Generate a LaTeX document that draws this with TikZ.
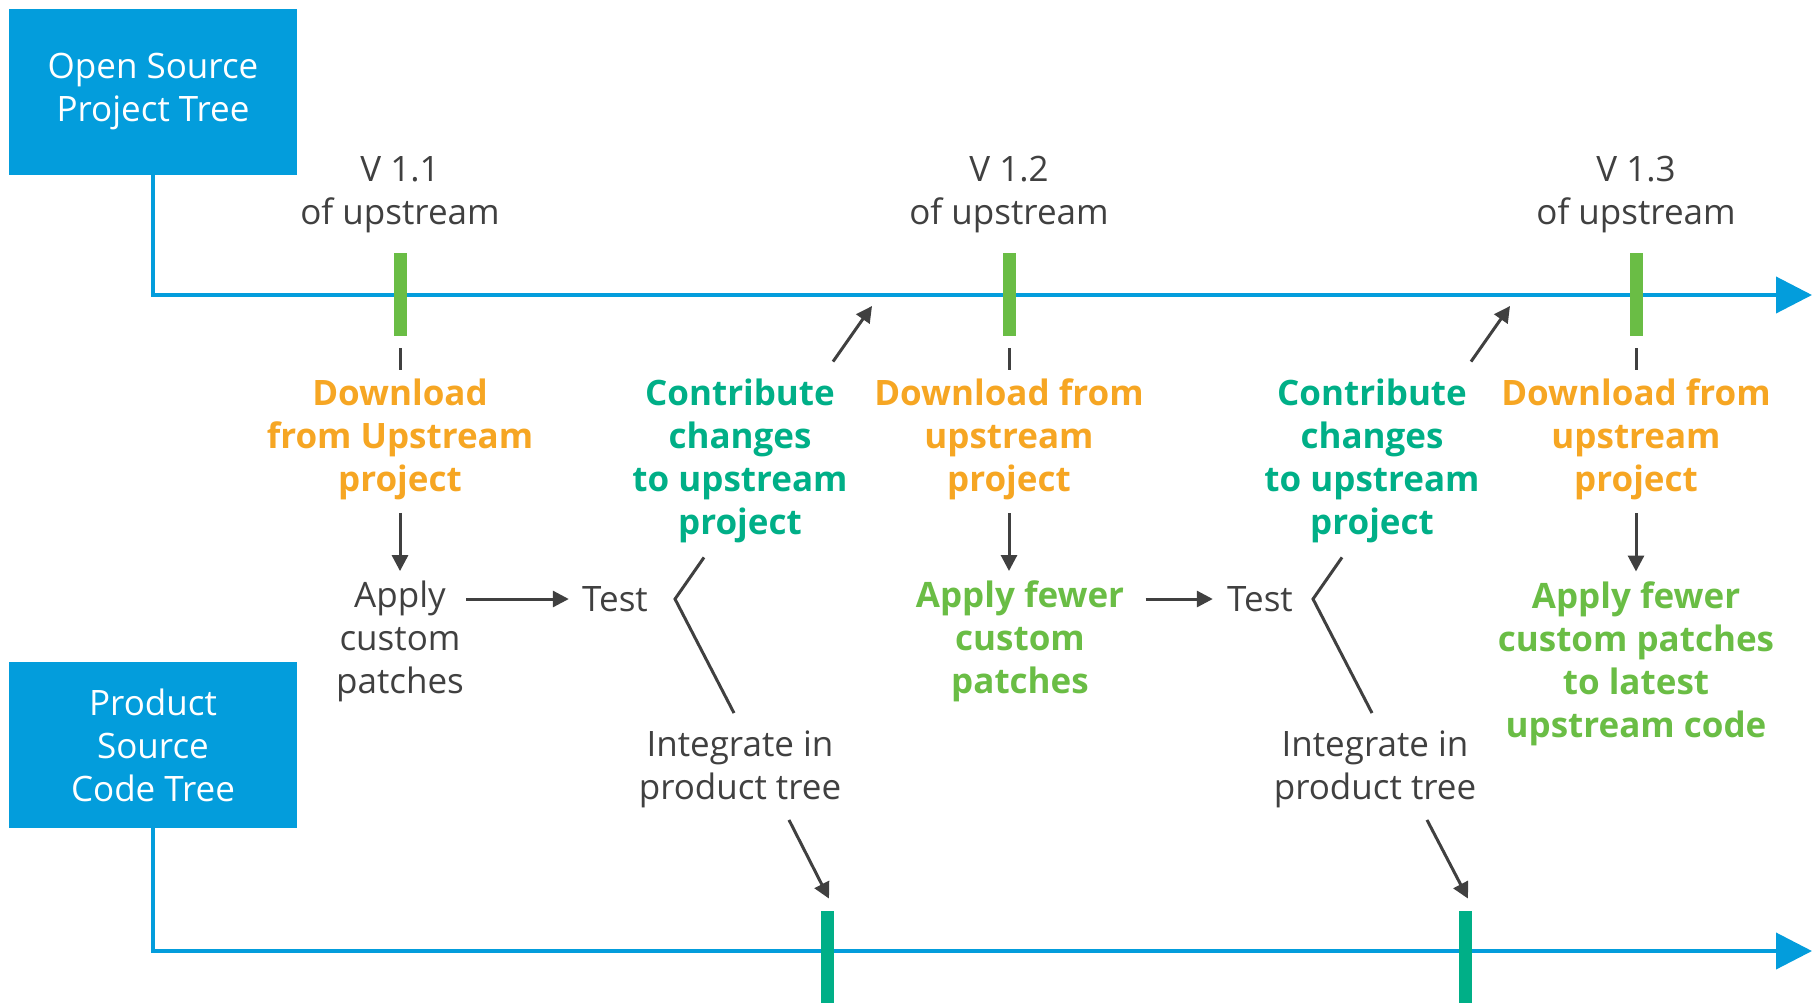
\documentclass[tikz,border=0pt]{standalone}
\usepackage{fontspec}
\setmainfont{Open Sans}
\usepackage{tikz}
\usetikzlibrary{arrows.meta, positioning}
\tikzset{>={Triangle[length=8pt,width=8pt]}}
\definecolor{myblue}{HTML}{039DDC}
\definecolor{myorange}{HTML}{F6A623}
\definecolor{myteal}{HTML}{00AF87}
\definecolor{mygreen}{HTML}{6ABD45}
\definecolor{mydark}{HTML}{404040}
\tikzset{
  treebox/.style={fill=myblue, text=white, align=center, minimum width=144pt, minimum height=83pt, inner sep=0pt, font=\fontsize{17.5}{21.5}\selectfont},
  txt/.style={text=mydark, align=center, inner sep=0pt, font=\fontsize{17.5}{21.5}\selectfont},
  boldtxt/.style={align=center, inner sep=0pt, font=\fontsize{17.5}{21.5}\selectfont\bfseries},
  conn/.style={draw=mydark, line width=1.5pt},
  timeline/.style={draw=myblue, line width=2pt, -{Triangle[length=18pt,width=18pt]}},
  reltick/.style={fill=mygreen, minimum width=6.5pt, minimum height=41.5pt, inner sep=0pt},
  prodtick/.style={fill=myteal, minimum width=6.5pt, minimum height=49.5pt, inner sep=0pt}
}
\begin{document}
\begin{tikzpicture}[x=0.5pt, y=-0.5pt]
	\useasboundingbox (0,0) rectangle (1819,1002);
	\node[treebox] (osbox) at (153,91.5) {Open Source\\Project Tree};
	\node[treebox] (pbox) at (153,745) {Product\\Source\\Code Tree};
	\coordinate (topend) at (1812,295);
	\coordinate (botend) at (1812,951);
	\draw[timeline] (osbox.south) |- (topend);
	\draw[timeline] (pbox.south) |- (botend);
	\node[reltick] (tt1) at (400,294.5) {};
	\node[reltick] (tt2) at (1009,294.5) {};
	\node[reltick] (tt3) at (1636,294.5) {};
	\node[prodtick] (bt1) at (827,960.5) {};
	\node[prodtick] (bt2) at (1465,960.5) {};
	\node[txt] (v11) at (400,195) {V 1.1\\of upstream};
	\node[txt] (v12) at (1009,195) {V 1.2\\of upstream};
	\node[txt] (v13) at (1636,195) {V 1.3\\of upstream};
	\node[boldtxt, text=myorange] (dl1) at (400,439.5) {Download\\from Upstream\\project};
	\node[boldtxt, text=myorange] (dl2) at (1009,439.5) {Download from\\upstream\\project};
	\node[boldtxt, text=myorange] (dl3) at (1636,439.5) {Download from\\upstream\\project};
	\node[txt] (ap1) at (400,641.5) {Apply\\custom\\patches};
	\node[boldtxt, text=mygreen] (ap2) at (1020,641.5) {Apply fewer\\custom\\patches};
	\node[boldtxt, text=mygreen] (ap3) at (1636,663.5) {Apply fewer\\custom patches\\to latest\\upstream code};
	\node[txt] (test1) at (615,599) {Test};
	\node[txt] (test2) at (1260,599) {Test};
	\node[boldtxt, text=myteal] (ct1) at (740,460.5) {Contribute\\changes\\to upstream\\project};
	\node[boldtxt, text=myteal] (ct2) at (1372,460.5) {Contribute\\changes\\to upstream\\project};
	\node[txt] (ig1) at (740,769.5) {Integrate in\\product tree};
	\node[txt] (ig2) at (1375,769.5) {Integrate in\\product tree};
	\coordinate (fk1) at (675,599);
	\coordinate (fk2) at (1313,599);
	\coordinate (up1) at (872,306);
	\coordinate (up2) at (1510,306);
	\draw[conn] ([yshift=-6pt]tt1.south) -- ([yshift=4.25pt]dl1.north);
	\draw[conn] ([yshift=-6pt]tt2.south) -- ([yshift=4.25pt]dl2.north);
	\draw[conn] ([yshift=-6pt]tt3.south) -- ([yshift=4.25pt]dl3.north);
	\draw[conn, ->] ([yshift=-6.25pt]dl1.south) -- ([yshift=4.75pt]dl1.south |- ap1.north);
	\draw[conn, ->] ([yshift=-6.25pt]dl2.south) -- ([yshift=4.75pt]dl2.south |- ap2.north);
	\draw[conn, ->] ([yshift=-6.25pt]dl3.south) -- ([yshift=4.75pt]dl3.south |- ap3.north);
	\draw[conn, ->, shorten <=1pt, shorten >=6.5pt] (ap1.east |- test1.west) -- (test1.west);
	\draw[conn, ->, shorten <=10.5pt, shorten >=7pt] (ap2.east |- test2.west) -- (test2.west);
	\draw[conn] ([xshift=-18pt, yshift=-7.25pt]ct1.south) -- (fk1) -- ([xshift=-3pt, yshift=8.75pt]ig1.north);
	\draw[conn] ([xshift=-15pt, yshift=-7.25pt]ct2.south) -- (fk2) -- ([xshift=-1.5pt, yshift=8.75pt]ig2.north);
	\draw[conn, ->] ([xshift=46.5pt, yshift=8.25pt]ct1.north) -- (up1);
	\draw[conn, ->] ([xshift=49.5pt, yshift=8.25pt]ct2.north) -- (up2);
	\draw[conn, ->] ([xshift=24.5pt, yshift=-5.75pt]ig1.south) -- ([xshift=1pt, yshift=6pt]bt1.north);
	\draw[conn, ->] ([xshift=26pt, yshift=-5.75pt]ig2.south) -- ([xshift=1.5pt, yshift=6pt]bt2.north);
\end{tikzpicture}
\end{document}
